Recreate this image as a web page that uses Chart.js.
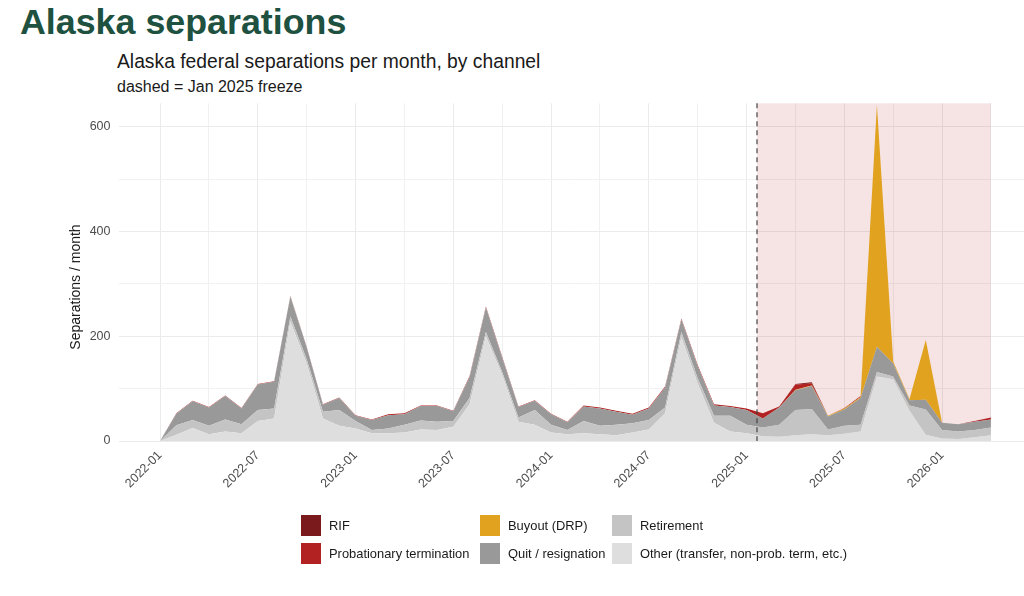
<!DOCTYPE html>
<html lang="en">
<head>
  <meta charset="UTF-8" />
  <title>Alaska separations</title>
  <script src="https://cdn.jsdelivr.net/npm/chart.js"></script>
  <style>
    * { margin: 0; padding: 0; box-sizing: border-box; }
    body {
      width: 1024px; height: 596px; overflow: hidden;
      background: #fff; position: relative;
      font-family: 'Liberation Sans', Arial, sans-serif;
      color: #1a1a1a;
    }
    .chart-box { position: absolute; left: 0; top: 0; width: 1040px; height: 596px; }
    .title { position: absolute; left: 20px; top: 4.5px; font-size: 35.8px; line-height: 35.8px; font-weight: bold; color: #1e5140; white-space: nowrap; }
    .subtitle { position: absolute; left: 117px; top: 52px; font-size: 19.3px; line-height: 19.3px; white-space: nowrap; }
    .note { position: absolute; left: 117px; top: 79px; font-size: 16px; line-height: 16px; white-space: nowrap; }
    .ytitle { position: absolute; left: -25px; top: 278px; width: 200px; text-align: center; font-size: 14px; line-height: 18px; transform: rotate(-90deg); white-space: nowrap; }
    .legend-item { position: absolute; display: flex; align-items: center; font-size: 12.9px; white-space: nowrap; }
    .legend-item span.key { width: 20px; height: 21px; margin-right: 8px; display: inline-block; }
  </style>
</head>
<body>
  <div class="title">Alaska separations</div>
  <div class="subtitle">Alaska federal separations per month, by channel</div>
  <div class="note">dashed = Jan 2025 freeze</div>
  <div class="chart-box"><canvas id="sepChart" width="1040" height="596"></canvas></div>
  <div class="ytitle">Separations / month</div>
  <div id="legend"></div>

  <script>
    const months = [
      '2022-01','2022-02','2022-03','2022-04','2022-05','2022-06','2022-07','2022-08','2022-09','2022-10','2022-11','2022-12',
      '2023-01','2023-02','2023-03','2023-04','2023-05','2023-06','2023-07','2023-08','2023-09','2023-10','2023-11','2023-12',
      '2024-01','2024-02','2024-03','2024-04','2024-05','2024-06','2024-07','2024-08','2024-09','2024-10','2024-11','2024-12',
      '2025-01','2025-02','2025-03','2025-04','2025-05','2025-06','2025-07','2025-08','2025-09','2025-10','2025-11','2025-12',
      '2026-01','2026-02','2026-03','2026-04'
    ];

    // separations per month, by channel
    const other = [0,12,25,13,18,15,38,43,228,148,43,29, 24,15,15,16,22,21,27,70,200,126,37,31,
                   16,13,15,13,11,16,22,53,198,110,35,18, 15,9,8,11,13,11,14,18,123,118,58,12, 5,4,7,11];
    const retirement = [0,18,15,16,23,17,21,19,10,8,13,30, 14,6,9,15,17,16,11,12,8,6,8,28,
                        15,8,23,16,20,18,18,11,10,10,13,30, 16,17,23,48,48,11,15,13,9,5,10,48, 16,14,14,15];
    const quit = [0,22,36,35,45,30,49,51,38,23,13,23, 10,19,25,20,28,30,19,40,47,27,20,18,
                  20,15,28,33,25,16,22,38,24,23,20,17, 28,17,33,38,44,25,31,51,48,25,10,19, 14,14,16,15];
    const buyout = [0,0,0,0,0,0,0,0,0,0,0,0, 0,0,0,0,0,0,0,0,0,0,0,0,
                    0,0,0,0,0,0,0,0,0,0,0,0, 0,0,0,1,1,1,2,2,462,4,2,114, 0,0,0,0];
    const probationary = [0,1,1,1,1,1,1,1,1,1,1,1, 1,1,2,2,1,1,1,2,2,2,1,1,
                          1,1,2,2,2,2,2,2,2,2,2,2, 3,10,2,10,4,0,1,2,0,0,0,0, 0,0,1,4];
    const rif = [0,0,0,0,0,0,0,0,0,0,0,0, 0,0,0,0,0,0,0,0,0,0,0,0,
                 0,0,0,0,0,0,0,0,0,0,0,0, 0,0,0,1,2,0,0,0,0,0,0,0, 0,0,0,0];

    const yTicks = [0, 100, 200, 300, 400, 500, 600];
    const freezeAt = 36.64; // Jan 20, 2025 as month offset from 2022-01

    const series = [
      { label: 'Other (transfer, non-prob. term, etc.)', data: other, color: '#dedede' },
      { label: 'Retirement', data: retirement, color: '#c4c4c4' },
      { label: 'Quit / resignation', data: quit, color: '#999999' },
      { label: 'Buyout (DRP)', data: buyout, color: '#e1a21f' },
      { label: 'Probationary termination', data: probationary, color: '#b22222' },
      { label: 'RIF', data: rif, color: '#7b1a1c' }
    ];

    Chart.defaults.font.family = "'Liberation Sans', Arial, sans-serif";

    // pink band after the freeze + dashed marker
    const freezePlugin = {
      id: 'freeze',
      beforeDatasetsDraw(chart) {
        const { ctx, chartArea, scales } = chart;
        const x0 = scales.x.getPixelForValue(freezeAt);
        const x1 = scales.x.getPixelForValue(months.length - 1);
        const yb = scales.y.getPixelForValue(0);
        ctx.save();
        ctx.fillStyle = 'rgba(178, 34, 34, 0.12)';
        ctx.fillRect(x0, chartArea.top, x1 - x0, yb - chartArea.top);
        ctx.restore();
      },
      afterDatasetsDraw(chart) {
        const { ctx, chartArea, scales } = chart;
        const x = scales.x.getPixelForValue(freezeAt);
        ctx.save();
        ctx.strokeStyle = '#444';
        ctx.lineWidth = 1.2;
        ctx.setLineDash([5, 4]);
        ctx.beginPath();
        ctx.moveTo(x, chartArea.top);
        ctx.lineTo(x, chartArea.bottom);
        ctx.stroke();
        ctx.restore();
      }
    };

    const ctx = document.getElementById('sepChart').getContext('2d');
    new Chart(ctx, {
      type: 'line',
      data: {
        datasets: series.map((s, k) => ({
          label: s.label,
          data: s.data.map((v, i) => ({ x: i, y: v })),
          backgroundColor: s.color,
          borderWidth: 0,
          pointRadius: 0,
          tension: 0,
          fill: k === 0 ? 'origin' : '-1'
        }))
      },
      options: {
        responsive: false,
        animation: false,
        layout: { padding: { left: 0, top: 103.3, right: 7.5, bottom: 0 } },
        plugins: { legend: { display: false }, tooltip: { enabled: false } },
        scales: {
          x: {
            type: 'linear',
            min: -2.55,
            max: 53.55,
            afterBuildTicks: (scale) => {
              const t = [];
              for (let i = 0; i < months.length; i += 3) t.push({ value: i });
              scale.ticks = t;
            },
            afterFit: (scale) => { scale.height = 155; },
            grid: {
              color: (c) => (c.tick && c.tick.value % 6 === 0 ? '#ebebeb' : '#f1f1f1'),
              lineWidth: 1,
              drawTicks: false
            },
            border: { display: false },
            ticks: {
              autoSkip: false,
              minRotation: 45,
              maxRotation: 45,
              padding: 7,
              color: '#4d4d4d',
              font: { size: 12.5 },
              callback: (v) => (v % 6 === 0 ? months[v] : '')
            }
          },
          y: {
            stacked: true,
            min: 0,
            max: 645,
            afterBuildTicks: (scale) => { scale.ticks = yTicks.map(v => ({ value: v })); },
            afterFit: (scale) => { scale.width = 118.5; },
            grid: {
              color: (c) => (c.tick && c.tick.value % 200 === 0 ? '#ebebeb' : '#f1f1f1'),
              lineWidth: 1,
              drawTicks: false
            },
            border: { display: false },
            ticks: {
              padding: 8,
              color: '#4d4d4d',
              font: { size: 12.5 },
              callback: (v) => (v % 200 === 0 ? String(v) : '')
            }
          }
        }
      },
      plugins: [freezePlugin]
    });

    // legend, 3 columns filled top to bottom
    const legendOrder = [
      { s: series[5], x: 301, y: 514.5 },
      { s: series[4], x: 301, y: 543 },
      { s: series[3], x: 480, y: 514.5 },
      { s: series[2], x: 480, y: 543 },
      { s: series[1], x: 612, y: 514.5 },
      { s: series[0], x: 612, y: 543 }
    ];
    const legend = document.getElementById('legend');
    legendOrder.forEach(({ s, x, y }) => {
      const item = document.createElement('div');
      item.className = 'legend-item';
      item.style.left = x + 'px';
      item.style.top = y + 'px';
      item.innerHTML = '<span class="key" style="background:' + s.color + '"></span>' + s.label;
      legend.appendChild(item);
    });
  </script>
</body>
</html>
